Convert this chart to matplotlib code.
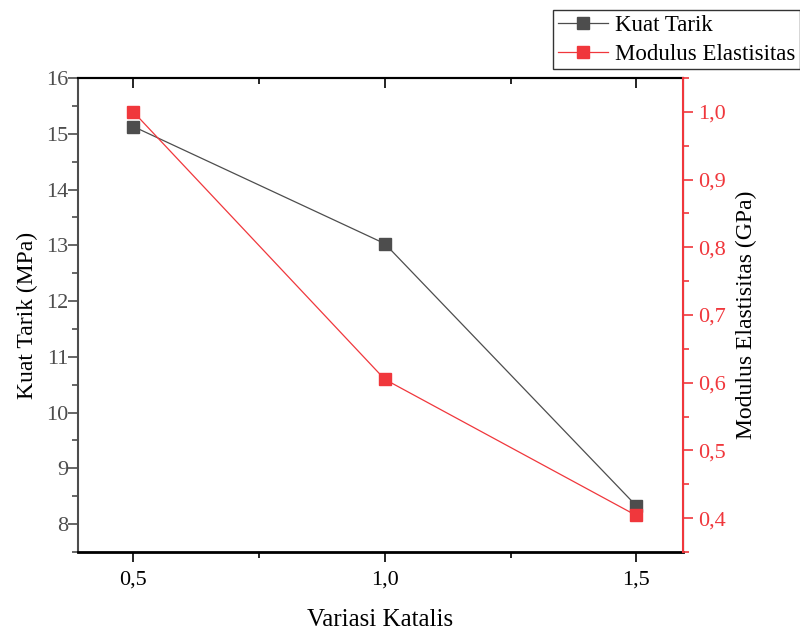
import matplotlib
matplotlib.use("Agg")
import matplotlib.pyplot as plt
import matplotlib.ticker as mticker
from matplotlib.lines import Line2D

variasi = [0.5, 1.0, 1.5]
kuat_tarik = [15.13, 13.03, 8.33]
modulus = [1.0, 0.605, 0.404]

plt.rcParams['font.family'] = ['Liberation Serif', 'DejaVu Serif']

grey = '#4d4d4d'
red = '#f0373c'

fig = plt.figure(figsize=(8, 6.29), dpi=100)
ax = fig.add_axes([78/800, 1 - 552/629, (683-78)/800, (552-78)/629])

ax.plot(variasi, kuat_tarik, color=grey, lw=0.9, marker='s', ms=8, mfc=grey, mec=grey)
ax.set_xlim(0.39, 1.593)
ax.set_ylim(7.5, 16)
ax.set_xticks([0.5, 1.0, 1.5])
ax.xaxis.set_minor_locator(mticker.FixedLocator([0.75, 1.25]))
ax.yaxis.set_major_locator(mticker.MultipleLocator(1))
ax.yaxis.set_minor_locator(mticker.MultipleLocator(0.5))

def comma(x, pos):
    return "{:.1f}".format(x).replace('.', ',')

ax.xaxis.set_major_formatter(mticker.FuncFormatter(comma))
ax.set_yticks(range(8, 17))

ax.tick_params(axis='x', which='both', direction='out', top=False, length=7, width=1.2,
               labelsize=16, colors='black', pad=6)
ax.tick_params(axis='x', which='minor', length=4)
ax.tick_params(axis='y', which='major', direction='out', length=7, width=1.2,
               labelsize=16, colors=grey, labelcolor=grey, pad=0)
ax.tick_params(axis='y', which='minor', direction='out', length=4, width=1.2, colors=grey)
ax.spines['left'].set_color(grey)
ax.spines['left'].set_linewidth(1.5)
ax.spines['bottom'].set_linewidth(2)
ax.spines['top'].set_linewidth(1.5)
ax.set_xlabel("Variasi Katalis", fontsize=18, labelpad=14)
ax.set_ylabel("Kuat Tarik (MPa)", fontsize=17, labelpad=6)

# inward ticks along the top edge
axt = ax.secondary_xaxis('top')
axt.set_xticks([0.5, 1.0, 1.5])
axt.xaxis.set_minor_locator(mticker.FixedLocator([0.75, 1.25]))
axt.tick_params(axis='x', which='major', direction='in', length=7, width=1.2, labeltop=False)
axt.tick_params(axis='x', which='minor', direction='in', length=4, width=1.2)
axt.spines['top'].set_linewidth(1.5)

ax2 = ax.twinx()
ax2.plot(variasi, modulus, color=red, lw=0.9, marker='s', ms=8, mfc=red, mec=red)
ax2.set_ylim(0.35, 1.05)
ax2.yaxis.set_major_locator(mticker.MultipleLocator(0.1))
ax2.yaxis.set_minor_locator(mticker.MultipleLocator(0.05))
ax2.yaxis.set_major_formatter(mticker.FuncFormatter(comma))
ax2.set_yticks([0.4, 0.5, 0.6, 0.7, 0.8, 0.9, 1.0])
ax2.tick_params(axis='y', which='major', direction='out', length=7, width=1.2,
                labelsize=16, colors=red, labelcolor=red, pad=4)
ax2.tick_params(axis='y', which='minor', direction='out', length=4, width=1.2, colors=red)
ax2.spines['right'].set_color(red)
ax2.spines['right'].set_linewidth(1.5)
ax2.spines['left'].set_visible(False)
ax2.spines['top'].set_visible(False)
ax2.spines['bottom'].set_visible(False)
ax2.set_ylabel("Modulus Elastisitas (GPa)", fontsize=17, labelpad=7)

handles = [
    Line2D([], [], color=grey, lw=0.9, marker='s', ms=8, mfc=grey, mec=grey),
    Line2D([], [], color=red, lw=0.9, marker='s', ms=8, mfc=red, mec=red),
]
leg = fig.legend(handles, ["Kuat Tarik", "Modulus Elastisitas"],
                 loc='upper right', bbox_to_anchor=(1.0, 1 - 10/629),
                 fontsize=16.5, frameon=True, fancybox=False, edgecolor='black',
                 borderpad=0.2, handlelength=2.2, handletextpad=0.3, labelspacing=0.35,
                 borderaxespad=0.0)
leg.get_frame().set_linewidth(1.0)

fig.savefig("out.png", dpi=100)
